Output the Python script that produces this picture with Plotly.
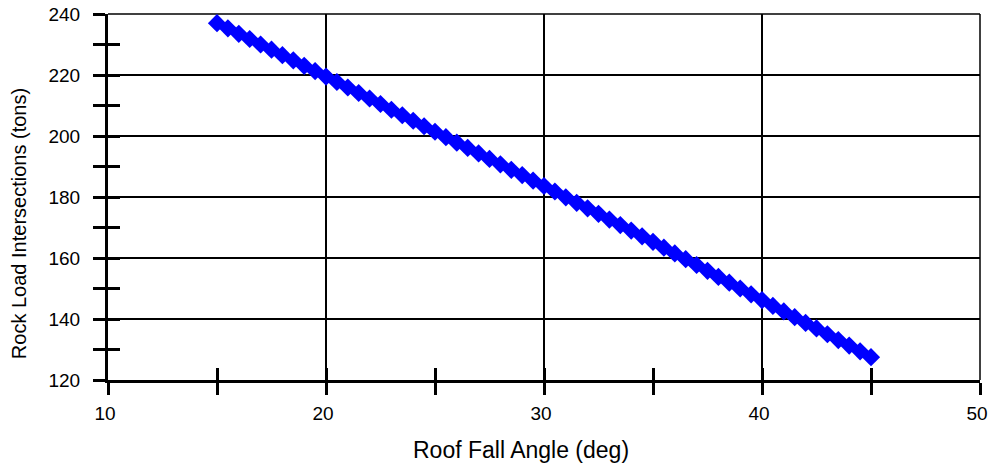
import plotly.graph_objects as go

# Roof fall angle (deg) and the resulting rock load at intersections (tons)
angle_deg = [
    15.0, 15.5, 16.0, 16.5, 17.0, 17.5, 18.0, 18.5, 19.0, 19.5,
    20.0, 20.5, 21.0, 21.5, 22.0, 22.5, 23.0, 23.5, 24.0, 24.5,
    25.0, 25.5, 26.0, 26.5, 27.0, 27.5, 28.0, 28.5, 29.0, 29.5,
    30.0, 30.5, 31.0, 31.5, 32.0, 32.5, 33.0, 33.5, 34.0, 34.5,
    35.0, 35.5, 36.0, 36.5, 37.0, 37.5, 38.0, 38.5, 39.0, 39.5,
    40.0, 40.5, 41.0, 41.5, 42.0, 42.5, 43.0, 43.5, 44.0, 44.5,
    45.0,
]
rock_load_tons = [
    237.0, 235.3, 233.5, 231.8, 230.0, 228.3, 226.5, 224.8, 223.0, 221.3,
    219.5, 217.7, 215.9, 214.1, 212.3, 210.5, 208.6, 206.8, 205.0, 203.2,
    201.4, 199.6, 197.8, 196.1, 194.3, 192.5, 190.7, 188.9, 187.2, 185.4,
    183.6, 181.8, 179.9, 178.1, 176.3, 174.5, 172.6, 170.8, 169.0, 167.1,
    165.3, 163.4, 161.5, 159.6, 157.7, 155.8, 153.8, 151.9, 150.0, 148.1,
    146.2, 144.3, 142.5, 140.6, 138.7, 136.9, 135.0, 133.1, 131.3, 129.4,
    127.5,
]

x_range = [10, 50.0001]
y_range = [120, 240.0001]
x_title = "Roof Fall Angle (deg)"
y_title = "Rock Load Intersections (tons)"

FONT = "Liberation Sans, Arial, Helvetica, sans-serif"
TICK_LEN = 12
AXIS_W = 3

fig = go.Figure()
fig.add_trace(go.Scatter(
    x=angle_deg, y=rock_load_tons, mode="markers",
    marker=dict(symbol="diamond", size=14, color="#0000ff",
                line=dict(width=0)),
    showlegend=False, cliponaxis=False,
))
# empty trace on the overlay axes so their inward ticks are drawn
fig.add_trace(go.Scatter(x=[None], y=[None], xaxis="x2", yaxis="y2",
                         showlegend=False, hoverinfo="skip"))

common = dict(showline=True, linecolor="black", linewidth=AXIS_W,
              tickcolor="black", tickwidth=AXIS_W, ticklen=TICK_LEN,
              automargin=False)

fig.update_layout(
    width=988, height=464,
    margin=dict(l=108, r=8, t=14, b=84),
    paper_bgcolor="white", plot_bgcolor="white",
    font=dict(family=FONT, color="black", size=19),
    xaxis=dict(
        range=x_range, dtick=10, tick0=10, ticks="outside",
        showgrid=True, gridcolor="black", gridwidth=1.5,
        zeroline=False, ticklabelstandoff=2, ticklabeloverflow="allow",
        ticklabelshift=-3, tickfont=dict(size=19),
        minor=dict(ticks="outside", dtick=5, tick0=10, ticklen=TICK_LEN,
                   tickwidth=AXIS_W, tickcolor="black", showgrid=False),
        **common,
    ),
    yaxis=dict(
        range=y_range, dtick=20, tick0=120, ticks="outside",
        showgrid=True, gridcolor="black", gridwidth=1.5,
        zeroline=False, ticklabelstandoff=9, ticklabeloverflow="allow",
        tickfont=dict(size=19),
        minor=dict(ticks="outside", dtick=10, tick0=120, ticklen=TICK_LEN,
                   tickwidth=AXIS_W, tickcolor="black", showgrid=False),
        **common,
    ),
    xaxis2=dict(
        range=x_range, overlaying="x", anchor="y2", side="bottom",
        dtick=5, tick0=10, ticks="inside", showticklabels=False,
        showgrid=False, zeroline=False, **common,
    ),
    yaxis2=dict(
        range=y_range, overlaying="y", anchor="x2", side="left",
        dtick=10, tick0=120, ticks="inside", showticklabels=False,
        showgrid=False, zeroline=False, **common,
    ),
    shapes=[
        dict(type="line", xref="paper", yref="paper", x0=0, x1=1, y0=1, y1=1,
             line=dict(color="black", width=1.5), layer="below"),
        dict(type="line", xref="paper", yref="paper", x0=1, x1=1, y0=0, y1=1,
             line=dict(color="black", width=1.5), layer="below"),
    ],
    annotations=[
        dict(text=x_title, xref="paper", yref="paper", x=0.4736, y=-0.191,
             xanchor="center", yanchor="middle", showarrow=False,
             font=dict(family=FONT, size=23, color="black")),
        dict(text=y_title, xref="paper", yref="paper", x=-0.102, y=0.426,
             xanchor="center", yanchor="middle", showarrow=False,
             textangle=-90, font=dict(family=FONT, size=20, color="black")),
    ],
)

fig.write_html("out.html")
